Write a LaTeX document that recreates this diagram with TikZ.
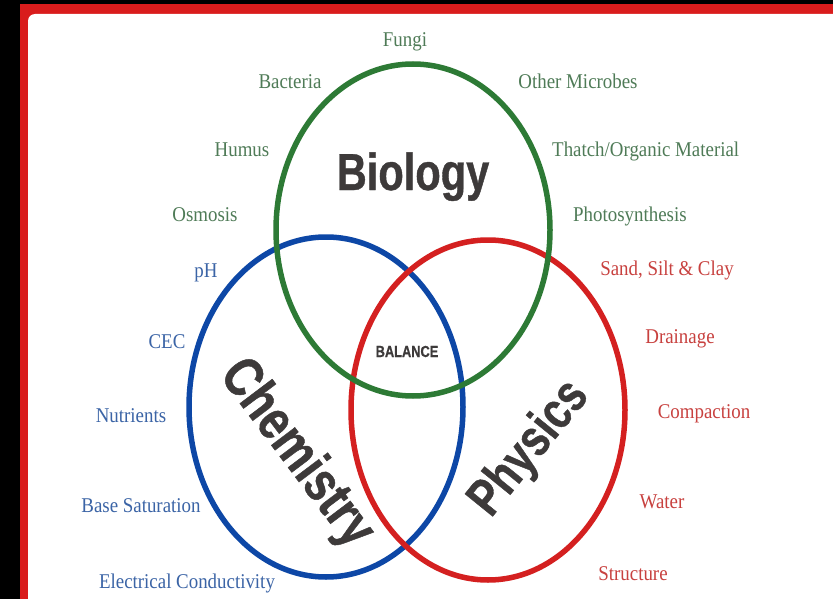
\documentclass[tikz,border=0pt]{standalone}
\usepackage{fontspec}
\usetikzlibrary{shapes.geometric}
\newfontfamily\labelfont[FakeStretch=0.9]{Liberation Serif}
\newfontfamily\titlefont[FakeStretch=0.8,FakeBold=0.8]{Liberation Sans}
\definecolor{framered}{HTML}{D91C1C}
\definecolor{biocol}{HTML}{2D7A35}
\definecolor{chemcol}{HTML}{0D47A6}
\definecolor{physcol}{HTML}{D42020}
\definecolor{biotext}{HTML}{4F7B57}
\definecolor{chemtext}{HTML}{3B64A6}
\definecolor{phystext}{HTML}{C8413F}
\definecolor{titlegray}{HTML}{3D3A3A}
\tikzset{
  ring/.style={ellipse, draw, line width=5.5pt, minimum width=274pt, minimum height=340pt, inner sep=0pt},
  lab/.style={anchor=base, inner sep=0pt, font=\labelfont\fontsize{21}{25}\selectfont},
  glab/.style={lab, text=biotext},
  blab/.style={lab, text=chemtext},
  rlab/.style={lab, text=phystext},
  title/.style={inner sep=0pt, text=titlegray, font=\titlefont\bfseries\fontsize{52}{60}\selectfont},
}
\begin{document}
\begin{tikzpicture}[x=1pt,y=-1pt]
\useasboundingbox (0,0) rectangle (833,599);
\clip (0,0) rectangle (833,599);
\fill[black] (0,0) rectangle (833,599);
\fill[framered] (20,4) rectangle (850,620);
\fill[white, rounded corners=7pt] (28,14) rectangle (850,620);

\node[ring, draw=chemcol] (chem) at (326,407) {};
\node[ring, draw=physcol] (phys) at (488,410) {};
\node[ring, draw=biocol, minimum height=332pt] (bio) at (413,230) {};

\node[title, anchor=base] (biology) at (413,190) {Biology};
\node[title, rotate=-53, font=\titlefont\bfseries\fontsize{56}{62}\selectfont] (chemistry) at (296,454) {Chemistry};
\node[title, rotate=51] (physics) at (530,449) {Physics};
\node[inner sep=0pt, text=titlegray, anchor=base, font=\titlefont\bfseries\fontsize{16}{18}\selectfont] (balance) at (407,357) {BALANCE};

\node[glab] (fungi) at (405,47) {Fungi};
\node[glab] (bacteria) at (290,89) {Bacteria};
\node[glab] (microbes) at (578,89) {Other Microbes};
\node[glab] (humus) at (242,157) {Humus};
\node[glab, anchor=base west] (thatch) at (552,157) {Thatch/Organic Material};
\node[glab] (osmosis) at (205,222) {Osmosis};
\node[glab, anchor=base west] (photo) at (573,222) {Photosynthesis};

\node[blab] (ph) at (206,277) {pH};
\node[blab] (cec) at (167,348) {CEC};
\node[blab] (nutrients) at (131,422) {Nutrients};
\node[blab] (base) at (141,512) {Base Saturation};
\node[blab] (ec) at (187,588) {Electrical Conductivity};

\node[rlab] (sand) at (667,275) {Sand, Silt \& Clay};
\node[rlab] (drainage) at (680,343) {Drainage};
\node[rlab] (compaction) at (704,418) {Compaction};
\node[rlab] (water) at (662,508) {Water};
\node[rlab] (structure) at (633,580) {Structure};
\end{tikzpicture}
\end{document}
